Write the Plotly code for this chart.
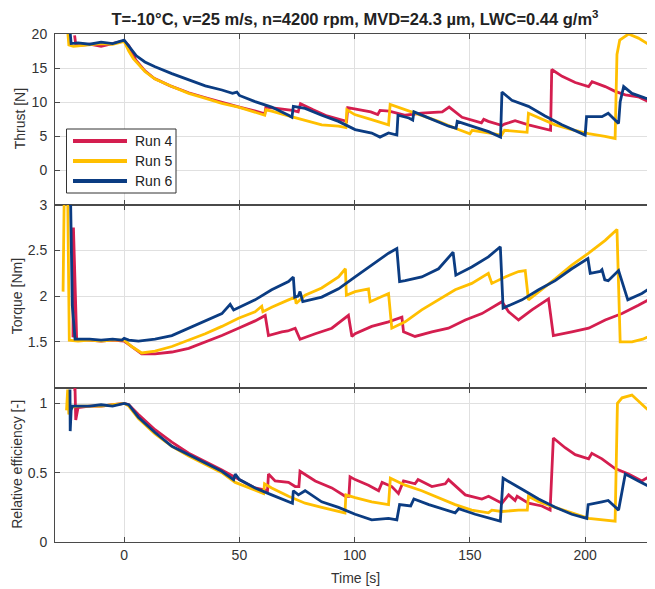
import plotly.graph_objects as go

# ---------------- data ----------------
run_names = ["Run 4", "Run 5", "Run 6"]
run_colors = ["#D41E4F", "#FFBF00", "#0B3C82"]

# Thrust [N]
thrust4_t = [-21.5, -21, -20, -15, -10, -5, -2, 0, 2, 5, 9, 13, 20, 28, 35, 42, 50, 57, 61, 61.5, 66, 70, 73, 75.5,
             76.5, 82, 88, 94.5, 96.5, 97, 100, 107, 110, 111, 115, 122, 129, 135, 138, 141, 146.6, 155, 156, 158,
             164, 165, 169.6, 175.4, 181, 185, 185.5, 190, 195.7, 201.5, 203, 208.7, 213, 217.4, 223, 227.5, 230.4]
thrust4 = [19.8, 18.5, 18.3, 18.5, 18.2, 18.6, 18.8, 19.0, 18.3, 16.2, 14.6, 13.5, 12.4, 11.4, 10.7, 10.0, 9.3, 8.7,
           8.3, 9.3, 9.1, 9.0, 8.8, 8.6, 9.8, 8.9, 8.0, 7.4, 7.2, 9.2, 9.0, 8.6, 8.2, 8.8, 8.7, 8.1, 8.4, 8.5, 8.6,
           9.3, 7.8, 7.0, 7.5, 7.2, 6.6, 6.8, 7.3, 6.7, 6.2, 5.9, 14.8, 13.8, 12.9, 12.3, 13.0, 12.3, 11.6, 11.1,
           10.8, 10.1, 10.6]

thrust5_t = [-24.5, -24, -22, -15, -10, -5, 0, 2, 4, 9, 13.4, 20.7, 28, 35, 42.4, 49.6, 56.8, 61, 61.5, 64, 71.3,
             78.5, 85.7, 93, 96.2, 96.6, 100, 107, 114.7, 115.4, 122, 129, 136.4, 143.6, 150, 151, 157, 163.8, 165,
             170, 174.8, 175.4, 181.2, 187, 194.2, 201.4, 208.6, 213, 213.8, 215, 218.8, 223.1, 230.4]
thrust5 = [20.5, 18.4, 18.2, 18.4, 18.6, 18.5, 18.9, 17.5, 16.4, 14.5, 13.4, 12.3, 11.3, 10.6, 9.85, 9.3, 8.6, 8.1,
           8.9, 8.7, 8.0, 7.4, 6.7, 6.5, 6.3, 8.9, 8.2, 7.5, 6.7, 9.7, 8.9, 8.0, 7.2, 6.2, 5.4, 5.9, 5.6, 5.2, 5.9,
           5.8, 5.6, 8.4, 7.5, 6.7, 6.0, 5.4, 5.0, 4.7, 17.0, 19.1, 20.0, 19.4, 17.9]

thrust6_t = [-23.5, -23, -20, -15, -10, -5, 0, 3, 5.3, 9, 13.4, 20.7, 28, 35.2, 42.4, 47, 48.9, 50, 56.8, 64, 71.3,
             72.8, 73.4, 78.5, 85.7, 93, 100.2, 107.4, 111, 114.7, 118.3, 118.8, 123.5, 125.2, 125.7, 132, 140.8,
             144, 144.5, 150.8, 158.1, 163.3, 163.9, 168.2, 175.4, 182.6, 189.9, 200, 200.6, 207.3, 210, 214.5,
             215.2, 216.7, 220.3, 226.1, 230.4]
thrust6 = [20.5, 18.6, 18.7, 18.5, 18.8, 18.6, 19.1, 17.8, 16.8, 15.9, 15.2, 14.2, 13.3, 12.4, 11.8, 11.3, 11.5,
           11.0, 10.1, 9.3, 8.1, 7.8, 9.4, 9.1, 8.1, 7.2, 6.0, 5.5, 4.9, 5.5, 5.2, 8.1, 7.7, 7.4, 8.6, 7.7, 6.5,
           6.2, 7.2, 6.5, 5.7, 4.9, 11.5, 10.3, 9.4, 8.0, 6.7, 5.2, 7.9, 7.9, 8.4, 6.9, 10.1, 12.3, 11.3, 10.6, 10.3]

# Torque [Nm]
torque4_t = [-22.2, -22, -20.6, -15, -10, -5, 0, 3.3, 7.6, 13.4, 20.7, 28, 35.2, 42.4, 49.6, 56.8, 61.2, 62.6,
             68.4, 71, 74.2, 76.3, 82.9, 90.1, 97.3, 98.8, 100.2, 107.4, 114.7, 120.5, 121.2, 126.2, 133.5, 140.7,
             148, 155.2, 163.9, 166.8, 171.1, 176.9, 184.1, 186.2, 194.2, 201.5, 208.7, 216, 223.1, 227.5, 230.4]
torque4 = [1.55, 2.75, 1.53, 1.52, 1.51, 1.52, 1.51, 1.45, 1.37, 1.37, 1.39, 1.43, 1.50, 1.57, 1.65, 1.73, 1.79,
           1.57, 1.61, 1.62, 1.65, 1.53, 1.59, 1.65, 1.79, 1.56, 1.59, 1.67, 1.72, 1.77, 1.61, 1.56, 1.61, 1.65,
           1.74, 1.81, 1.94, 1.83, 1.74, 1.85, 1.97, 1.57, 1.61, 1.65, 1.74, 1.81, 1.90, 1.96, 1.88]

torque5_t = [-26.5, -26, -24.5, -23.8, -20, -15, -10, -5, 0, 3.3, 7.6, 13.4, 20.7, 28, 35.2, 42.4, 49.6, 56.8,
             59.7, 60.2, 64, 71.3, 74.2, 74.6, 78.5, 85.7, 93, 96, 96.4, 100.2, 106, 106.7, 114.7, 116.1, 121.9,
             129.1, 136.4, 143.6, 150.8, 158, 159.5, 165.3, 171.1, 174, 175.4, 181.2, 187, 194.2, 201.5, 208.7,
             213.8, 215.2, 220.3, 225, 230.4]
torque5 = [2.05, 3.1, 3.1, 1.52, 1.51, 1.52, 1.51, 1.52, 1.52, 1.45, 1.38, 1.40, 1.45, 1.52, 1.59, 1.67, 1.76,
           1.83, 1.89, 1.83, 1.88, 1.96, 1.99, 1.92, 2.01, 2.09, 2.21, 2.30, 2.01, 2.05, 2.08, 1.94, 2.03, 1.65,
           1.72, 1.85, 1.96, 2.07, 2.14, 2.25, 2.14, 2.21, 2.27, 2.28, 1.96, 2.07, 2.19, 2.34, 2.47, 2.61, 2.73,
           1.50, 1.50, 1.53, 1.59]

torque6_t = [-23.5, -23.2, -22.5, -21.3, -15, -10, -5, -1, 0, 2, 6.2, 13.4, 20.7, 28, 35.2, 42.4, 46, 47.5, 56.8,
             64, 71.3, 73.4, 74.0, 75.5, 76.3, 77.5, 85.7, 93, 100.2, 107.4, 114.7, 118.3, 119.5, 121.9, 129.1,
             136.4, 142.7, 143.9, 150.8, 158, 163.2, 164.4, 172.6, 179.8, 187, 194.2, 201.2, 202.2, 206.5, 207.3,
             208.5, 210, 214.5, 218.5, 224.6, 229, 230.4]
torque6 = [3.1, 3.0, 1.9, 1.53, 1.53, 1.52, 1.53, 1.52, 1.54, 1.52, 1.51, 1.53, 1.57, 1.65, 1.73, 1.81, 1.91,
           1.85, 1.96, 2.07, 2.16, 2.21, 1.99, 2.0, 2.05, 1.94, 1.99, 2.08, 2.21, 2.34, 2.47, 2.52, 2.16, 2.17,
           2.21, 2.30, 2.48, 2.23, 2.32, 2.43, 2.54, 1.87, 1.96, 2.07, 2.17, 2.30, 2.41, 2.25, 2.27, 2.29, 2.18,
           2.17, 2.28, 1.96, 2.03, 2.10, 2.07]

# Relative efficiency [-]
eff4_t = [-22, -21.3, -21, -20, -15, -10, -5, 0, 2, 6.2, 13.4, 20.7, 28, 35.2, 42.4, 50, 56.8, 62.2, 62.6, 65.5,
          71.3, 74.2, 75.8, 76.3, 82.9, 90.1, 95.9, 97.5, 98, 100.2, 106, 110.4, 111.9, 116.1, 119, 121.2, 126.2,
          127.5, 133.5, 139.3, 140.7, 148, 155.2, 158.1, 163.9, 166.8, 169.6, 170.5, 175.4, 181.2, 184.8, 186.2,
          191.3, 195.7, 201.5, 202.9, 207.3, 213, 218.8, 224.6, 227.5, 230.4]
eff4 = [1.1, 1.1, 0.88, 0.97, 0.98, 0.98, 0.99, 1.0, 0.99, 0.92, 0.81, 0.72, 0.64, 0.58, 0.52, 0.45, 0.39, 0.37,
        0.49, 0.44, 0.43, 0.40, 0.40, 0.51, 0.44, 0.39, 0.33, 0.33, 0.47, 0.45, 0.41, 0.37, 0.43, 0.40, 0.35, 0.44,
        0.42, 0.45, 0.40, 0.42, 0.45, 0.34, 0.31, 0.33, 0.28, 0.34, 0.30, 0.33, 0.28, 0.26, 0.23, 0.75, 0.68, 0.63,
        0.60, 0.64, 0.60, 0.53, 0.49, 0.44, 0.47, 0.46]

eff5_t = [-25, -24.5, -24, -23.5, -20, -15, -10, -5, 0, 2, 6.2, 13.4, 20.7, 28, 35.2, 42.4, 48.2, 56.8, 60.5, 60.9,
          64, 71.3, 78.5, 85.7, 94.4, 95.8, 96.2, 100.2, 107.4, 114.7, 115.5, 121.9, 129.1, 136.4, 143.6, 150.8,
          158, 159.5, 163.9, 171.1, 174.9, 175.4, 179.8, 187, 194.2, 201.5, 213, 214, 216, 220.3, 226.1, 230.4]
eff5 = [0.95, 1.1, 0.92, 0.97, 0.98, 0.98, 0.98, 0.99, 1.0, 0.98, 0.89, 0.78, 0.69, 0.62, 0.56, 0.50, 0.43, 0.37,
        0.35, 0.42, 0.39, 0.33, 0.28, 0.25, 0.22, 0.21, 0.34, 0.32, 0.29, 0.27, 0.46, 0.41, 0.37, 0.32, 0.27, 0.23,
        0.21, 0.23, 0.22, 0.23, 0.23, 0.33, 0.29, 0.25, 0.21, 0.17, 0.15, 1.0, 1.04, 1.06, 0.97, 0.91]

eff6_t = [-23.5, -23.4, -23, -22.5, -20, -15, -10, -5, 0, 2, 6.2, 13.4, 20.7, 28, 35.2, 42.4, 47.5, 48.2, 50,
          56.8, 64, 71.3, 73, 73.4, 75.6, 78.5, 85.7, 93, 100.2, 107.4, 114.7, 118.3, 119.5, 124.3, 125.7, 132.2,
          143.6, 145.1, 152.3, 163.2, 164.4, 172.6, 179.8, 187, 194.2, 200.7, 201.3, 207.3, 210, 214.5, 215.8,
          217.4, 223.1, 229, 230.4]
eff6 = [1.1, 0.8, 0.95, 0.98, 0.98, 0.98, 0.99, 0.98, 1.0, 0.99, 0.90, 0.79, 0.69, 0.63, 0.57, 0.51, 0.45, 0.49,
        0.45, 0.39, 0.34, 0.29, 0.28, 0.37, 0.34, 0.37, 0.29, 0.25, 0.20, 0.16, 0.17, 0.16, 0.27, 0.26, 0.31, 0.27,
        0.21, 0.24, 0.20, 0.15, 0.46, 0.38, 0.31, 0.25, 0.20, 0.17, 0.27, 0.29, 0.30, 0.23, 0.34, 0.49, 0.44, 0.39,
        0.40]

x_ticks = [0, 50, 100, 150, 200]
thrust_ticks = [0, 5, 10, 15, 20]
torque_ticks = [1.5, 2, 2.5, 3]
eff_ticks = [0, 0.5, 1]

title_text = "T=-10°C, v=25 m/s, n=4200 rpm, MVD=24.3 µm, LWC=0.44 g/m<sup>3</sup>"
y_titles = ["Thrust [N]", "Torque [Nm]", "Relative efficiency [-]"]
x_title = "Time [s]"

# ---------------- figure ----------------
# the page body adds an 8 px offset; the figure is sized and placed to compensate
OFF = 8
W, H = 655 - OFF, 589 - OFF
ML, MR, MT, MB = 55 - OFF, 0, 34 - OFF, 47
PW, PH = W - ML - MR, H - MT - MB


def py(p):  # reference pixel y -> paper
    return (H - MB - (p - OFF)) / PH


def px(p):  # reference pixel x -> paper
    return (p - OFF - ML) / PW


FONT = "Liberation Sans, Arial, Helvetica, sans-serif"
TXT = "#333333"
AX = "#4a4a4a"
GRID = "#e0e0e0"
LW = 2.8

fig = go.Figure()
series = [
    (thrust4_t, thrust4, torque4_t, torque4, eff4_t, eff4),
    (thrust5_t, thrust5, torque5_t, torque5, eff5_t, eff5),
    (thrust6_t, thrust6, torque6_t, torque6, eff6_t, eff6),
]
for i, (tt, tv, qt, qv, et, ev) in enumerate(series):
    c = run_colors[i]
    fig.add_trace(go.Scatter(x=tt, y=tv, mode="lines", line=dict(color=c, width=LW),
                             name=run_names[i], showlegend=False, xaxis="x", yaxis="y"))
    fig.add_trace(go.Scatter(x=qt, y=qv, mode="lines", line=dict(color=c, width=LW),
                             name=run_names[i], showlegend=False, xaxis="x2", yaxis="y2"))
    fig.add_trace(go.Scatter(x=et, y=ev, mode="lines", line=dict(color=c, width=LW),
                             name=run_names[i], showlegend=False, xaxis="x3", yaxis="y3"))

d1 = py(204.7)
d2 = py(387.7)

xcommon = dict(range=[-30, 230.3], tickvals=x_ticks, showgrid=True, gridcolor=GRID, gridwidth=1,
               showline=True, linecolor=AX, linewidth=1, mirror="ticks", ticks="inside", ticklen=5,
               tickcolor=AX, zeroline=False, tickfont=dict(family=FONT, size=14, color=TXT))
ycommon = dict(showgrid=True, gridcolor=GRID, gridwidth=1, showline=True, linecolor=AX, linewidth=1,
               mirror=False, ticks="inside", ticklen=5, tickcolor=AX, zeroline=False,
               tickfont=dict(family=FONT, size=14, color=TXT), ticklabelstandoff=4)

fig.update_layout(
    width=W, height=H,
    margin=dict(l=ML, r=MR, t=MT, b=MB, autoexpand=False),
    paper_bgcolor="white", plot_bgcolor="white",
    showlegend=False,
    font=dict(family=FONT, size=14, color=TXT),
    title=dict(text="<b>" + title_text + "</b>", x=0.5, xref="paper", xanchor="center",
               y=1 - (19.5 - OFF) / H, yref="container", yanchor="middle",
               font=dict(family=FONT, size=16.5, color="#222222")),
    xaxis=dict(domain=[0, 1], anchor="y", showticklabels=False, **xcommon),
    xaxis2=dict(domain=[0, 1], anchor="y2", matches="x", showticklabels=False, **xcommon),
    xaxis3=dict(domain=[0, 1], anchor="y3", matches="x", showticklabels=True, **xcommon),
    yaxis=dict(domain=[d1, 1], range=[-5, 20], tickvals=thrust_ticks, anchor="x", **ycommon),
    yaxis2=dict(domain=[d2, d1], range=[1, 3], tickvals=torque_ticks, anchor="x2", **ycommon),
    yaxis3=dict(domain=[0, d2], range=[0, 1.113], tickvals=eff_ticks, anchor="x3", **ycommon),
)

annotations = []
# y-axis titles
for text, xc, yc in [(y_titles[0], 20, py((34 + 204.7) / 2)),
                     (y_titles[1], 17, py((204.7 + 387.7) / 2)),
                     (y_titles[2], 17, py((387.7 + 542) / 2))]:
    annotations.append(dict(text=text, x=px(xc), y=yc, xref="paper", yref="paper", textangle=-90,
                            showarrow=False, xanchor="center", yanchor="middle",
                            font=dict(family=FONT, size=14, color=TXT)))
annotations.append(dict(text=x_title, x=0.5, y=py(578), xref="paper", yref="paper", showarrow=False,
                        xanchor="center", yanchor="middle", font=dict(family=FONT, size=14, color=TXT)))

# legend (drawn manually to match the long line samples)
shapes = [dict(type="rect", xref="paper", yref="paper", x0=px(66.5), x1=px(176), y0=py(193), y1=py(129),
               line=dict(color="#333333", width=1), fillcolor="white", layer="above")]
for i, yy in enumerate([141, 161, 181]):
    shapes.append(dict(type="line", xref="paper", yref="paper", x0=px(73), x1=px(127), y0=py(yy), y1=py(yy),
                       line=dict(color=run_colors[i], width=4), layer="above"))
    annotations.append(dict(text=run_names[i], x=px(133), y=py(yy), xref="paper", yref="paper",
                            showarrow=False, xanchor="left", yanchor="middle",
                            font=dict(family=FONT, size=14, color="#222222")))

fig.update_layout(annotations=annotations, shapes=shapes)
fig.write_html("out.html")
